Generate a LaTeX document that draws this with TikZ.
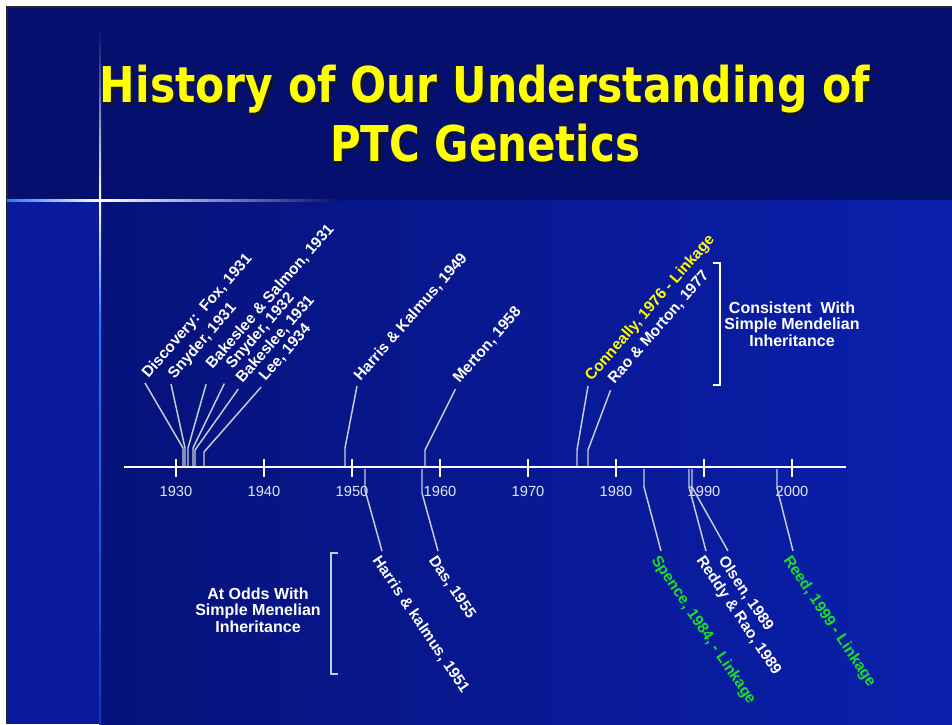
\documentclass[tikz,border=0pt]{standalone}
\usepackage{graphicx}
\usepackage{fontspec}
\setmainfont{Liberation Sans}
\newfontfamily\titlefont{DejaVu Sans}

\definecolor{slidenavy}{RGB}{5,16,110}
\definecolor{lowleft}{RGB}{6,18,122}
\definecolor{lowright}{RGB}{10,32,172}
\definecolor{stripblue}{RGB}{10,26,158}
\definecolor{flare}{RGB}{40,120,255}
\definecolor{leadgrey}{RGB}{200,205,215}
\definecolor{yeargrey}{RGB}{225,230,245}
\definecolor{linkyellow}{RGB}{255,255,0}
\definecolor{linkgreen}{RGB}{25,225,40}
\definecolor{titleshadow}{RGB}{20,20,40}

\newcommand\titleline[2]{\resizebox{#1}{\height}{\titlefont\bfseries\fontsize{37}{40}\selectfont #2}}

\begin{document}
\begin{tikzpicture}[
            x=0.75pt, y=-0.75pt,
            event/.style={text=white, font=\bfseries\fontsize{11.6}{12}\selectfont},
            up event/.style={event, rotate=49, anchor=base west, inner xsep=4pt, inner ysep=0pt},
            down event/.style={event, rotate=-56, anchor=north west, inner sep=1.5pt},
            leader/.style={draw=leadgrey, line width=1.1pt},
            year/.style={anchor=base, text=yeargrey, font=\fontsize{11}{12}\selectfont},
            note/.style={align=center, text=white, font=\bfseries\fontsize{12}{12.5}\selectfont},
            bracket/.style={line width=1.6pt}
    ]
        \useasboundingbox (0,0) rectangle (952,724);

        % Slide background
        \fill[white] (0,0) rectangle (952,724);
        \fill[slidenavy] (7,7) rectangle (952,200);
        \shade[left color=lowleft, right color=lowright] (100,200) rectangle (952,724);
        \fill[stripblue] (7,200) rectangle (100,724);
        \draw[black!85, line width=1pt] (952,7) -- (7,7) -- (7,724);

        % Flare
        \shade[top color=slidenavy, bottom color=white] (99,30) rectangle (101,200);
        \shade[top color=white, bottom color=flare] (99,200) rectangle (101,320);
        \shade[top color=flare, bottom color=stripblue!70!flare] (99,320) rectangle (101,724);
        \shade[left color=flare, right color=white] (7,199) rectangle (100,201);
        \shade[left color=white, right color=slidenavy] (100,199) rectangle (340,201);

        % Title
        \node[anchor=base, text=titleshadow] (title1_sh) at (487.5,105.5) {\titleline{577.5pt}{History of Our Understanding of}};
        \node[anchor=base, text=titleshadow] (title2_sh) at (487.5,163.5) {\titleline{232.5pt}{PTC Genetics}};
        \node[anchor=base, text=linkyellow] (title1) at (485,103) {\titleline{577.5pt}{History of Our Understanding of}};
        \node[anchor=base, text=linkyellow] (title2) at (485,161) {\titleline{232.5pt}{PTC Genetics}};

        % Time axis
        \draw[white, line width=2.2pt] (124,467) -- (846,467);
        \foreach \yr in {1930,1940,...,2000} {
            \draw[white, line width=1.6pt] ({176+8.8*(\yr-1930)},459) -- ++(0,18);
            \node[year] (yr\yr) at ({176+8.8*(\yr-1930)},496) {\yr};
        }

        % Feet on the axis
        \coordinate (f_fox) at (183,466);
        \coordinate (f_snyder31) at (185,466);
        \coordinate (f_salmon) at (188,466);
        \coordinate (f_snyder32) at (193,466);
        \coordinate (f_bakeslee31) at (195,466);
        \coordinate (f_lee) at (204,466);
        \coordinate (f_harris49) at (345,466);
        \coordinate (f_merton) at (425,466);
        \coordinate (f_conneally) at (577,466);
        \coordinate (f_rao) at (588,466);
        \coordinate (f_harris51) at (365,469);
        \coordinate (f_das) at (422,469);
        \coordinate (f_spence) at (644,469);
        \coordinate (f_reddy) at (689,469);
        \coordinate (f_olsen) at (692,469);
        \coordinate (f_reed) at (777,469);

        % Events above the axis
        \node[up event] (ev_fox) at (145,383) {Discovery:\ \ Fox, 1931};
        \node[up event] (ev_snyder31) at (171,384) {Snyder, 1931};
        \node[up event] (ev_salmon) at (209,374) {Bakeslee \& Salmon, 1931};
        \node[up event] (ev_snyder32) at (229,374) {Snyder, 1932};
        \node[up event] (ev_bakeslee31) at (239,388) {Bakeslee, 1931};
        \node[up event] (ev_lee) at (262,386) {Lee, 1934};
        \node[up event] (ev_harris49) at (357,386) {Harris \& Kalmus, 1949};
        \node[up event] (ev_merton) at (456,388) {Merton, 1958};
        \node[up event, text=linkyellow] (ev_conneally) at (588,386) {Conneally, 1976 - Linkage};
        \node[up event] (ev_rao) at (611,389) {Rao \& Morton, 1977};

        % Events below the axis
        \node[down event] (ev_harris51) at (382,551) {Harris \& kalmus, 1951};
        \node[down event] (ev_das) at (438,551) {Das, 1955};
        \node[down event, text=linkgreen] (ev_spence) at (661,551) {Spence, 1984, - Linkage};
        \node[down event] (ev_reddy) at (706,551) {Reddy \& Rao, 1989};
        \node[down event] (ev_olsen) at (728,551) {Olsen, 1989};
        \node[down event, text=linkgreen] (ev_reed) at (793,551) {Reed, 1999 - Linkage};

        % Leaders
        \draw[leader] (f_fox) -- ++(0,-18) -- (ev_fox.base west);
        \draw[leader] (f_snyder31) -- ++(0,-18) -- (ev_snyder31.base west);
        \draw[leader, shorten >=8pt] (f_salmon) -- ++(0,-18) -- (ev_salmon.base west);
        \draw[leader, shorten >=8pt] (f_snyder32) -- ++(0,-18) -- (ev_snyder32.base west);
        \draw[leader, shorten >=1pt] (f_bakeslee31) -- ++(0,-16) -- (ev_bakeslee31.base west);
        \draw[leader, shorten >=1pt] (f_lee) -- ++(0,-14) -- (ev_lee.base west);
        \draw[leader] (f_harris49) -- ++(0,-18) -- (ev_harris49.base west);
        \draw[leader, shorten >=1pt] (f_merton) -- ++(0,-16) -- (ev_merton.base west);
        \draw[leader] (f_conneally) -- ++(0,-16) -- (ev_conneally.base west);
        \draw[leader, shorten >=1pt] (f_rao) -- ++(0,-16) -- (ev_rao.base west);

        \draw[leader] (f_harris51) -- ++(0,21) -- (ev_harris51.north west);
        \draw[leader] (f_das) -- ++(0,24) -- (ev_das.north west);
        \draw[leader] (f_spence) -- ++(0,18) -- (ev_spence.north west);
        \draw[leader] (f_reddy) -- ++(0,18) -- (ev_reddy.north west);
        \draw[leader] (f_olsen) -- ++(0,18) -- (ev_olsen.north west);
        \draw[leader] (f_reed) -- ++(0,19) -- (ev_reed.north west);

        % Brackets and notes
        \draw[bracket, white] (713,263) -- (720,263) -- (720,385) -- (713,385);
        \node[note] (consistent) at (792,324) {Consistent\ \ With\\Simple Mendelian\\Inheritance};

        \draw[bracket, leadgrey] (338,553) -- (331,553) -- (331,674) -- (338,674);
        \node[note] (at_odds) at (258,610) {At Odds With\\Simple Menelian\\Inheritance};

    \end{tikzpicture}
\end{document}
